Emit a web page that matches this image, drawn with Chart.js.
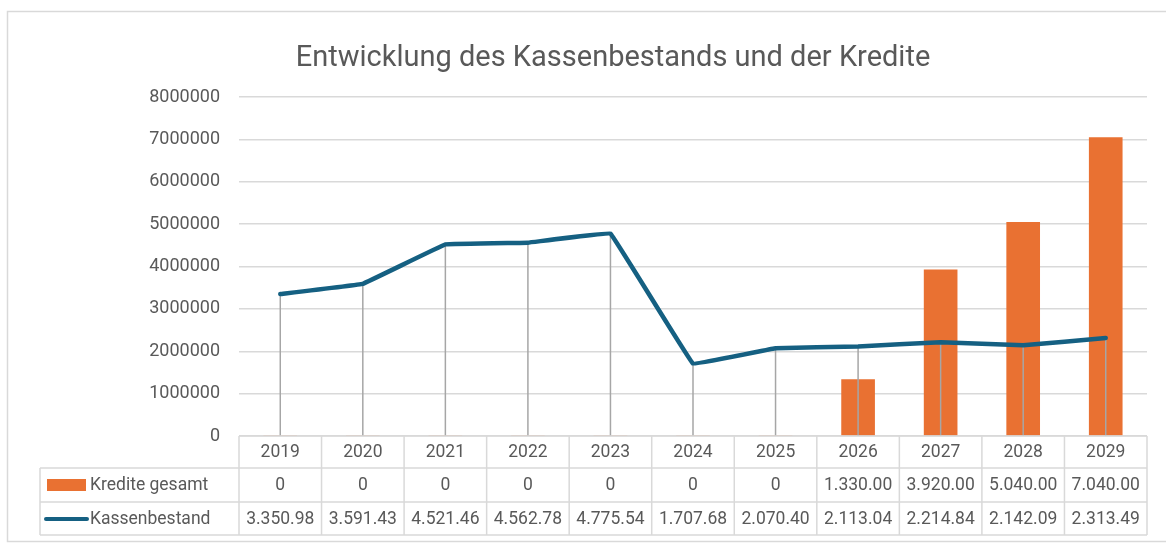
<!DOCTYPE html>
<html>
<head>
<meta charset="utf-8">
<script src="https://cdn.jsdelivr.net/npm/chart.js@4.4.1/dist/chart.umd.min.js"></script>
<style>body{margin:0;background:#fff}</style>
</head>
<body>
<canvas id="myChart" width="1166" height="543"></canvas>
<script>
// Daten
const jahre = ['2019', '2020', '2021', '2022', '2023', '2024', '2025', '2026', '2027', '2028', '2029'];
const kredite = [0, 0, 0, 0, 0, 0, 0, 1330000, 3920000, 5040000, 7040000];
const kassenbestand = [3350980, 3591430, 4521460, 4562780, 4775540, 1707680, 2070400, 2113040, 2214840, 2142090, 2313490];
// Beschriftungen der Datentabelle (wie im Original angezeigt)
const kreditText = ['0', '0', '0', '0', '0', '0', '0', '1.330.00', '3.920.00', '5.040.00', '7.040.00'];
const kassenText = ['3.350.98', '3.591.43', '4.521.46', '4.562.78', '4.775.54', '1.707.68', '2.070.40', '2.113.04', '2.214.84', '2.142.09', '2.313.49'];
const yMax = 8000000;
const yStep = 1000000;

const titel = 'Entwicklung des Kassenbestands und der Kredite';
const orange = '#E97132';
const blau = '#156082';
const grau = '#595959';
const linie = '#d9d9d9';
const schrift = 'Roboto, "Liberation Sans", sans-serif';

const ctx = document.getElementById('myChart').getContext('2d');

// Rahmen, Titel und Datentabelle
const extras = {
  id: 'extras',
  beforeDraw(chart) {
    const c = chart.ctx;
    c.save();
    c.fillStyle = '#fff';
    c.fillRect(0, 0, chart.width, chart.height);
    c.strokeStyle = linie;
    c.lineWidth = 1.5;
    c.strokeRect(7.5, 11.5, 1170, 530);
    c.restore();
  },
  beforeDatasetDraw(chart, args) {
    // Verbindungslinien von den Punkten zur Achse
    if (args.meta.type !== 'line') return;
    const c = chart.ctx;
    const y0 = chart.scales.y.getPixelForValue(0);
    c.save();
    c.strokeStyle = '#a6a6a6';
    c.lineWidth = 1.5;
    args.meta.data.forEach(p => {
      c.beginPath();
      c.moveTo(p.x, p.y);
      c.lineTo(p.x, y0);
      c.stroke();
    });
    c.restore();
  },
  afterDraw(chart) {
    const c = chart.ctx;
    const area = chart.chartArea;
    const x = chart.scales.x;
    c.save();
    c.fillStyle = grau;
    c.font = '29px ' + schrift;
    c.textAlign = 'center';
    c.textBaseline = 'middle';
    c.fillText(titel, 613, 59);

    const half = (x.getPixelForValue(1) - x.getPixelForValue(0)) / 2;
    const rows = [436, 468, 502, 535];
    const tabLeft = 40;
    c.strokeStyle = linie;
    c.lineWidth = 1.5;
    c.beginPath();
    c.moveTo(area.left, rows[0]); c.lineTo(area.right, rows[0]);
    for (let r = 1; r < rows.length; r++) {
      c.moveTo(tabLeft, rows[r]); c.lineTo(area.right, rows[r]);
    }
    c.moveTo(tabLeft, rows[1]); c.lineTo(tabLeft, rows[3]);
    for (let i = 0; i <= jahre.length; i++) {
      const bx = x.getPixelForValue(0) - half + i * half * 2;
      c.moveTo(bx, rows[0]); c.lineTo(bx, rows[3]);
    }
    c.stroke();

    c.font = '17.5px ' + schrift;
    c.fillStyle = grau;
    jahre.forEach((j, i) => {
      const cx = x.getPixelForValue(i);
      c.fillText(j, cx, (rows[0] + rows[1]) / 2 + 1);
      c.fillText(kreditText[i], cx, (rows[1] + rows[2]) / 2 + 1);
      c.fillText(kassenText[i], cx, (rows[2] + rows[3]) / 2 + 1);
    });

    // Legendenschlüssel
    c.fillStyle = orange;
    c.fillRect(47, 479, 39, 12);
    c.strokeStyle = blau;
    c.lineWidth = 4;
    c.lineCap = 'round';
    c.beginPath();
    c.moveTo(46, 519); c.lineTo(87, 519);
    c.stroke();
    c.fillStyle = grau;
    c.textAlign = 'left';
    c.fillText(chart.data.datasets[0].label, 90, (rows[1] + rows[2]) / 2 + 1);
    c.fillText(chart.data.datasets[1].label, 90, (rows[2] + rows[3]) / 2 + 1);
    c.restore();
  }
};

const chart = new Chart(ctx, {
  type: 'bar',
  data: {
    labels: jahre,
    datasets: [{
      type: 'bar',
      label: 'Kredite gesamt',
      data: kredite,
      backgroundColor: orange,
      barThickness: 33,
      order: 2
    }, {
      type: 'line',
      label: 'Kassenbestand',
      data: kassenbestand,
      borderColor: blau,
      borderWidth: 4.5,
      borderCapStyle: 'round',
      borderJoinStyle: 'round',
      tension: 0.03,
      pointRadius: 0,
      order: 1
    }]
  },
  options: {
    responsive: false,
    animation: false,
    layout: { padding: { top: 97, bottom: 107, left: 0, right: 19 } },
    plugins: {
      legend: { display: false },
      title: { display: false },
      tooltip: { enabled: false }
    },
    scales: {
      x: { display: false },
      y: {
        min: 0,
        max: yMax,
        afterFit(scale) { scale.width = 239; },
        border: { display: false },
        grid: { color: linie, lineWidth: 1.5, drawTicks: false },
        ticks: {
          stepSize: yStep,
          padding: 19,
          color: grau,
          font: { family: schrift, size: 18 },
          callback: v => String(v)
        }
      }
    }
  },
  plugins: [extras]
});
</script>
</body>
</html>
